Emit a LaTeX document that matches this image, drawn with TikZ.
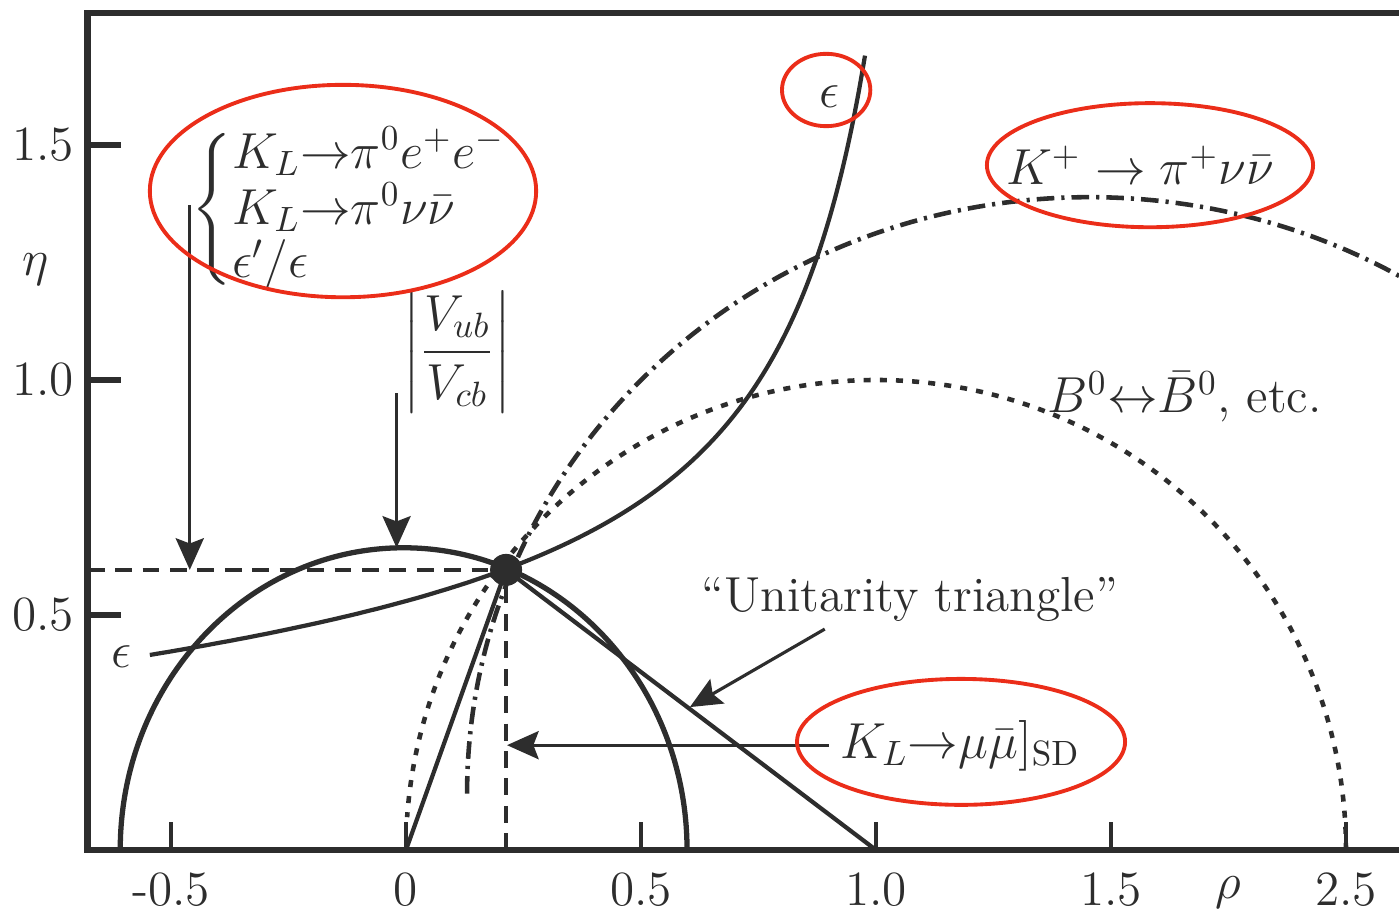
\documentclass[tikz,border=0pt]{standalone}
\usepackage{amsmath}
\usetikzlibrary{arrows.meta}
\definecolor{ink}{RGB}{45,45,45}
\definecolor{redmark}{RGB}{235,45,25}

\begin{document}
\begin{tikzpicture}[
  x=4.7cm, y=4.7cm,
  every node/.style={font=\fontsize{14}{17}\selectfont, text=ink},
  frame/.style={draw=ink, line width=1.9pt},
  tick/.style={draw=ink, line width=1.1pt},
  curve/.style={draw=ink, line width=1.2pt},
  guide/.style={draw=ink, line width=1.1pt, dash pattern=on 4.8pt off 3pt},
  bmix/.style={draw=ink, line width=1.3pt, dash pattern=on 2pt off 2.6pt},
  kplus/.style={draw=ink, line width=1.3pt, dash pattern=on 5pt off 2pt on 0.9pt off 2pt},
  arrow/.style={-{Stealth[length=9pt,width=8pt,inset=1.5pt]}, draw=ink, line width=0.9pt},
  ring/.style={draw=redmark, line width=1.1pt},
  dot/.style={circle, fill=ink, inner sep=0pt, minimum size=0.32cm},
]

\useasboundingbox (-0.8638,-0.1383) rectangle (2.1128,1.8085);

\draw[frame] (2.2,1.781) -- (-0.677,1.781) -- (-0.677,0) -- (2.2,0);

\foreach \y/\t [count=\i] in {0.5/0.5, 1/1.0, 1.5/1.5} {
  \draw[frame] (-0.677,\y) -- (-0.607,\y);
  \node (ylab\i) at (-0.772,\y) {\t};
}
\foreach \x/\t [count=\i] in {-0.5/-0.5, 0/0, 0.5/0.5, 1/1.0, 1.5/1.5, 2/2.5} {
  \draw[tick] (\x,0) -- (\x,0.06);
  \node (xlab\i) at (\x,-0.085) {\t};
}
\node (rholab) at (1.749,-0.09) {$\rho$};
\node (etalab) at (-0.789,1.234) {$\eta$};

\coordinate (origin) at (0,0);
\coordinate (one) at (1,0);
\coordinate (ybar) at (-0.677,0.596);
\coordinate (xbar) at (0.213,0);

\draw[curve, line width=1.5pt] (0.598,0) arc[start angle=0, end angle=180, x radius=0.603, y radius=0.643];
\draw[bmix] (2,0) arc[start angle=0, end angle=176, radius=1];
\draw[kplus] (0.13,0.12) arc[start angle=180, end angle=55, x radius=1.325, y radius=1.269];
\draw[curve] plot[domain=-0.545:0.978, samples=120, smooth] (\x,{0.2792+0.0669*\x+0.30055/(1.2-\x)});

\node[dot] (apex) at (0.213,0.596) {};
\draw[guide] (ybar) -- (apex);
\draw[guide] (apex) -- (xbar);
\draw[curve] (origin) -- (apex.center) -- (one);

\node (brace) at (-0.119,1.362) {$\renewcommand{\arraystretch}{0.85}\left\{\begin{array}{@{}l@{}} K_L{\to}\pi^0e^+e^-\\ K_L{\to}\pi^0\nu\bar\nu\\ \epsilon'/\epsilon \end{array}\right.$};
\node (vub) at (0.109,1.06) {$\left|\dfrac{V_{ub}}{V_{cb}}\right|$};
\node (epstop) at (0.901,1.602) {$\epsilon$};
\node (epslow) at (-0.606,0.411) {$\epsilon$};
\node (kpl) at (1.562,1.457) {$K^+\to\pi^+\nu\bar\nu$};
\node (bmixlab) at (1.657,0.964) {$B^0{\leftrightarrow}\bar B^0$, etc.};
\node (utlab) at (1.072,0.532) {``Unitarity triangle''};
\node (klmu) at (1.179,0.222) {$K_L{\to}\mu\bar\mu]_{\mathrm{SD}}$};

\coordinate (brtail) at (-0.46,1.372);
\coordinate (brtip) at (-0.46,0.596);
\coordinate (vubtail) at (-0.02,0.972);
\coordinate (vubtip) at (-0.02,0.643);
\coordinate (uttail) at (0.891,0.47);
\coordinate (uttip) at (0.604,0.304);
\coordinate (klmutail) at (0.9,0.223);
\coordinate (klmutip) at (0.215,0.223);

\draw[arrow] (brtail) -- (brtip);
\draw[arrow] (vubtail) -- (vubtip);
\draw[arrow] (uttail) -- (uttip);
\draw[arrow] (klmutail) -- (klmutip);

\draw[ring] (-0.134,1.402) ellipse [x radius=0.411, y radius=0.226];
\draw[ring] (0.894,1.617) ellipse [x radius=0.094, y radius=0.077];
\draw[ring] (1.583,1.457) ellipse [x radius=0.347, y radius=0.132];
\draw[ring] (1.181,0.230) ellipse [x radius=0.349, y radius=0.134];

\end{tikzpicture}
\end{document}
